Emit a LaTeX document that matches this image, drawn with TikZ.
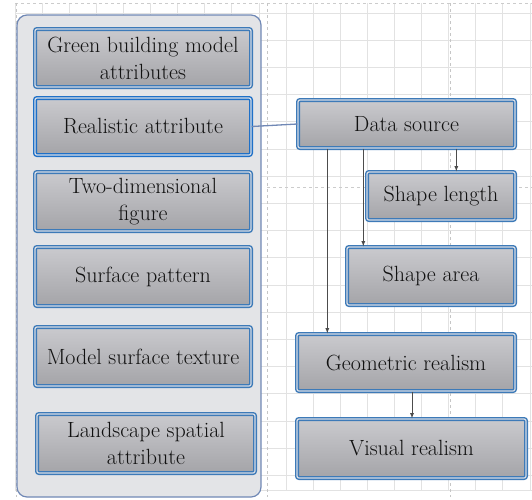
\documentclass[tikz,border=0pt]{standalone}
\definecolor{boxblue}{HTML}{3D7AB8}
\definecolor{brightblue}{HTML}{1E70C8}
\definecolor{boxgap}{HTML}{D6DCE6}
\definecolor{boxtop}{HTML}{CACACE}
\definecolor{boxbot}{HTML}{A4A4A8}
\definecolor{panelfill}{HTML}{E3E4E7}
\definecolor{panelline}{HTML}{7088B5}
\definecolor{gridgray}{HTML}{E2E2E2}
\definecolor{textgray}{HTML}{111111}
\tikzset{
  attrbox/.style={draw=boxblue, line width=1.4pt, double=boxgap, double distance=1.2pt,
    rounded corners=2pt, top color=boxtop, bottom color=boxbot, text=textgray,
    font=\rmfamily\fontsize{22}{27}\selectfont, align=center, inner sep=0pt},
  arr/.style={-latex, line width=0.8pt, color=black!70},
}
\begin{document}
\begin{tikzpicture}[x=1pt,y=-1pt]
  \useasboundingbox (0,0) rectangle (532,499);
  % background grid
  \foreach \i in {0,...,19}
    \draw[gridgray, line width=0.8pt] ({15+27.1*\i},3) -- ({15+27.1*\i},490);
  \foreach \j in {0,...,17}
    \draw[gridgray, line width=0.8pt] (15,{13+27.2*\j}) -- (532,{13+27.2*\j});
  \draw[gridgray, line width=0.8pt] (15,490) -- (532,490);
  \draw[dashed, color=gray!40, line width=0.8pt] (15,3) -- (532,3);
  \draw[dashed, color=gray!40, line width=0.8pt] (267,187) -- (532,187);
  \foreach \x in {16,267,450}
    \draw[dashed, color=gray!45, line width=0.8pt] (\x,3) -- (\x,497);

  % left panel
  \draw[fill=panelfill, draw=panelline, line width=1.2pt, rounded corners=10pt] (17,15) rectangle (261,497);

  \node[attrbox, minimum width=216pt, minimum height=58pt] (green) at (143,58) {Green building model\\attributes};
  \node[attrbox, draw=brightblue, minimum width=216pt, minimum height=57pt] (real) at (143,126.5) {Realistic attribute};
  \node[attrbox, minimum width=216pt, minimum height=59pt] (twod) at (143,201.5) {Two-dimensional\\figure};
  \node[attrbox, minimum width=216pt, minimum height=59pt] (surf) at (143,276.5) {Surface pattern};
  \node[attrbox, minimum width=216pt, minimum height=59pt] (tex) at (143,356.5) {Model surface texture};
  \node[attrbox, minimum width=218pt, minimum height=59pt] (land) at (146,443.5) {Landscape spatial\\attribute};

  % right side
  \node[attrbox, minimum width=217pt, minimum height=48pt] (ds) at (406.5,124) {Data source};
  \node[attrbox, minimum width=148pt, minimum height=48pt] (len) at (441,196) {Shape length};
  \node[attrbox, minimum width=168pt, minimum height=58pt] (area) at (431,276) {Shape area};
  \node[attrbox, minimum width=218pt, minimum height=57pt] (geo) at (406,362.5) {Geometric realism};
  \node[attrbox, minimum width=229pt, minimum height=59pt] (vis) at (411.5,448.5) {Visual realism};

  \draw[panelline, line width=1.3pt] (real.east) -- (ds.west);

  \draw[arr] ([xshift=30pt]ds.south west) -- ([xshift=30pt]ds.south west |- geo.north);
  \draw[arr] ([xshift=66pt]ds.south west) -- ([xshift=66pt]ds.south west |- area.north);
  \draw[arr] ([xshift=159pt]ds.south west) -- ([xshift=159pt]ds.south west |- len.north);
  \draw[arr] ([xshift=6pt]geo.south) -- ([xshift=6pt]geo.south |- vis.north);
\end{tikzpicture}
\end{document}
